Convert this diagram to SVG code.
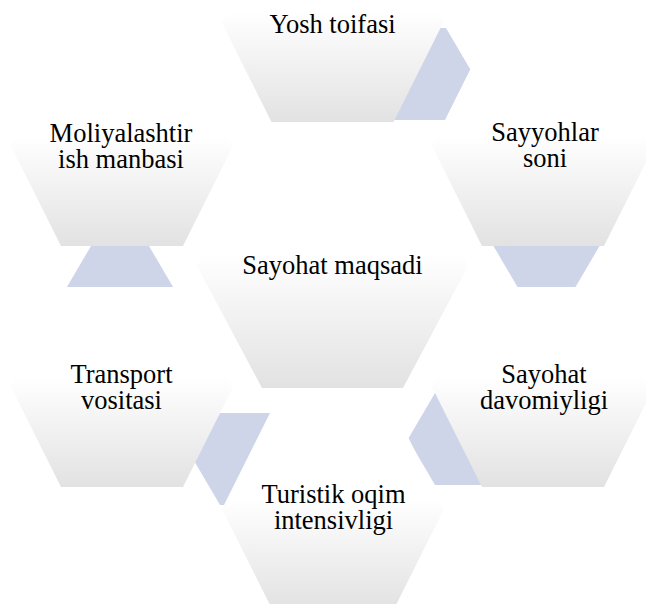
<svg xmlns="http://www.w3.org/2000/svg" xmlns:xlink="http://www.w3.org/1999/xlink" width="646" height="604" viewBox="0 0 646 604">
  <defs>
    <linearGradient id="g" x1="0" y1="0" x2="0" y2="1">
      <stop offset="0" stop-color="#ffffff"/>
      <stop offset="0.45" stop-color="#ffffff"/>
      <stop offset="1" stop-color="#e2e2e2"/>
    </linearGradient>
    <polygon id="hex" points="-111,0 -61,-100 61,-100 111,0 61,100 -61,100"/>
    <polygon id="hexC" points="-135.5,0 -70.5,-122 70.5,-122 135.5,0 70.5,122 -70.5,122"/>
    <polygon id="hexS" points="-56,0 -29,-46 29,-46 56,0 29,46 -29,46"/>
  </defs>
  <style>
    .big { fill: url(#g); stroke: none; }
    .small { fill: #cfd5e9; stroke: none; }
    .t { font-family: 'Liberation Serif', 'Times New Roman', serif; font-size: 26.5px; fill: #000000; text-anchor: middle; }
  </style>
  <rect width="646" height="604" fill="#ffffff"/>
  <g id="connectors">
    <use xlink:href="#hexS" class="small" x="417" y="74"/>
    <use xlink:href="#hexS" class="small" x="546.5" y="241"/>
    <use xlink:href="#hexS" class="small" x="464" y="439"/>
    <use xlink:href="#hexS" class="small" x="249" y="459"/>
    <use xlink:href="#hexS" class="small" x="120" y="292"/>
  </g>
  <g id="node-center">
    <use xlink:href="#hexC" class="big" x="332.5" y="266"/>
    <text class="t" x="332.5" y="274">Sayohat maqsadi</text>
  </g>
  <g id="node-top">
    <use xlink:href="#hex" class="big" x="332.5" y="22"/>
    <text class="t" x="332.5" y="33">Yosh toifasi</text>
  </g>
  <g id="node-top-right">
    <use xlink:href="#hex" class="big" x="543" y="146"/>
    <text class="t" x="545" y="141">Sayyohlar</text>
    <text class="t" x="545" y="167">soni</text>
  </g>
  <g id="node-bottom-right">
    <use xlink:href="#hex" class="big" x="543" y="387"/>
    <text class="t" x="544" y="383">Sayohat</text>
    <text class="t" x="544" y="409">davomiyligi</text>
  </g>
  <g id="node-bottom">
    <use xlink:href="#hex" class="big" x="333" y="509"/>
    <text class="t" x="333.5" y="503">Turistik oqim</text>
    <text class="t" x="333.5" y="529">intensivligi</text>
  </g>
  <g id="node-bottom-left">
    <use xlink:href="#hex" class="big" x="122" y="387"/>
    <text class="t" x="121.5" y="382.5">Transport</text>
    <text class="t" x="121.5" y="408.5">vositasi</text>
  </g>
  <g id="node-top-left">
    <use xlink:href="#hex" class="big" x="122" y="146"/>
    <text class="t" x="121" y="142">Moliyalashtir</text>
    <text class="t" x="121" y="168">ish manbasi</text>
  </g>
</svg>
